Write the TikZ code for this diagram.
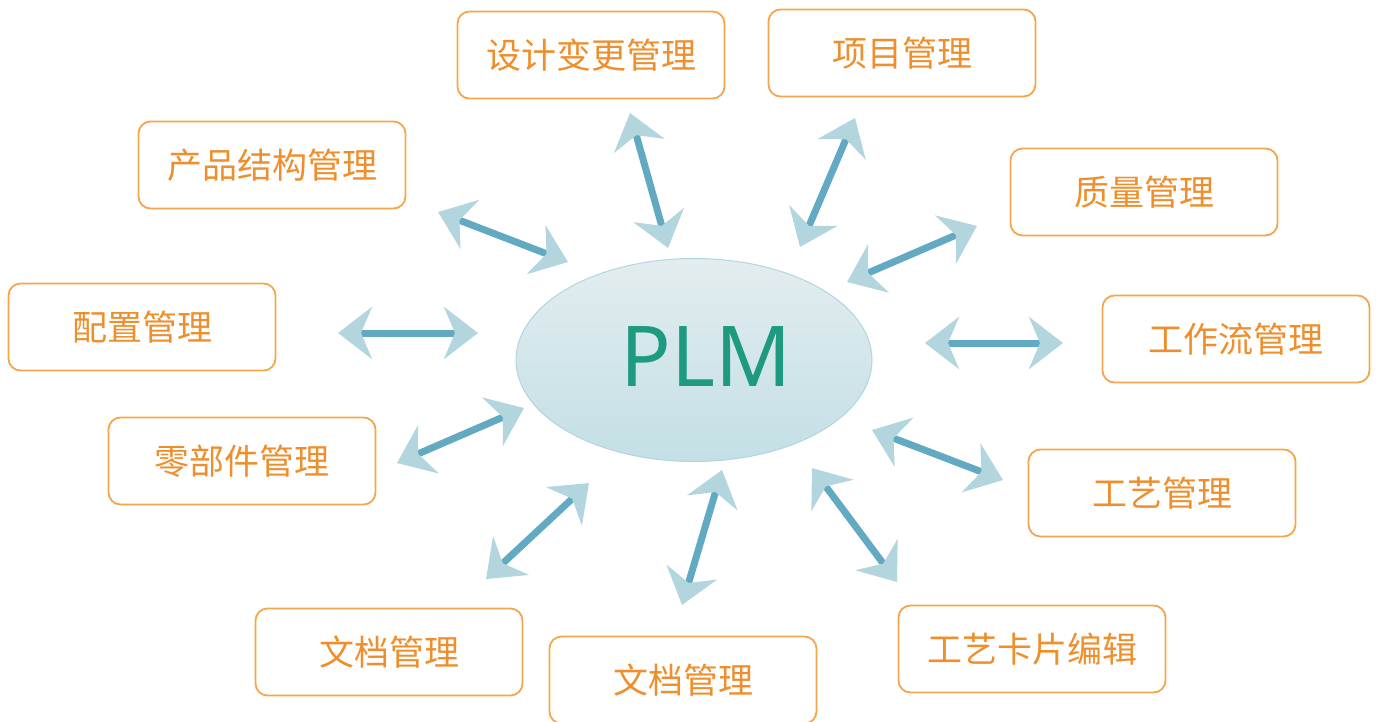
\documentclass[tikz,border=0pt]{standalone}
\usepackage{fontspec}
\setmainfont{Noto Sans}
\newfontfamily\cjk{Noto Sans CJK SC}
\usetikzlibrary{arrows.meta,shapes.geometric}

\definecolor{boxorange}{HTML}{F5A54A}
\definecolor{textorange}{HTML}{EE8E2C}
\definecolor{shaftblue}{HTML}{62A9C2}
\definecolor{headblue}{HTML}{B2D5DE}
\definecolor{plmgreen}{HTML}{1E9A80}
\definecolor{plmtop}{HTML}{E3EDEF}
\definecolor{plmbottom}{HTML}{C3DFE6}

\tikzset{
  module/.style={draw=boxorange, line width=1.8pt, rounded corners=12pt,
    minimum width=267pt, minimum height=87pt, text=textorange,
    font=\cjk\fontsize{35}{40}\selectfont},
  link/.style={line width=7pt, draw=shaftblue,
    {Stealth[length=34pt,width=52pt,inset=11pt,color=headblue]}-{Stealth[length=34pt,width=52pt,inset=11pt,color=headblue]}}
}

\begin{document}
\begin{tikzpicture}[x=1pt,y=-1pt]
    \useasboundingbox (0,0) rectangle (1378,721);

    % centre
    \node[ellipse, draw=headblue, line width=1pt, top color=plmtop,
      bottom color=plmbottom, minimum width=356pt, minimum height=203pt]
      (plm) at (694,360) {};
    \node[text=plmgreen, font=\fontsize{84}{90}\selectfont] (plmtext) at (706,357) {PLM};

    % modules
    \node[module] (design)  at (591,55)  {设计变更管理};
    \node[module] (project) at (902,53)  {项目管理};
    \node[module] (product) at (272,165) {产品结构管理};
    \node[module] (quality) at (1144,192) {质量管理};
    \node[module] (config)  at (142,327) {配置管理};
    \node[module] (flow)    at (1236,339) {工作流管理};
    \node[module] (parts)   at (242,461) {零部件管理};
    \node[module] (process) at (1162,493) {工艺管理};
    \node[module] (docl)    at (389,652) {文档管理};
    \node[module] (docm)    at (683,680) {文档管理};
    \node[module] (card)    at (1032,649) {工艺卡片编辑};

    % arrow ends
    \coordinate (product-a) at (438,212);  \coordinate (product-b) at (568,262);
    \coordinate (design-a)  at (630,113);  \coordinate (design-b)  at (668,248);
    \coordinate (project-a) at (855,118);  \coordinate (project-b) at (800,247);
    \coordinate (quality-a) at (977,226);  \coordinate (quality-b) at (847,282);
    \coordinate (flow-a)    at (1063,343); \coordinate (flow-b)    at (925,343);
    \coordinate (process-a) at (1003,480); \coordinate (process-b) at (872,430);
    \coordinate (card-a)    at (897,582);  \coordinate (card-b)    at (812,468);
    \coordinate (docm-a)    at (682,605);  \coordinate (docm-b)    at (722,470);
    \coordinate (docl-a)    at (486,579);  \coordinate (docl-b)    at (589,483);
    \coordinate (parts-a)   at (397,463);  \coordinate (parts-b)   at (524,408);
    \coordinate (config-a)  at (338,333);  \coordinate (config-b)  at (478,333);

    \draw[link] (product-a) -- (product-b);
    \draw[link] (design-a) -- (design-b);
    \draw[link] (project-a) -- (project-b);
    \draw[link] (quality-a) -- (quality-b);
    \draw[link] (flow-a) -- (flow-b);
    \draw[link] (process-a) -- (process-b);
    \draw[link] (card-a) -- (card-b);
    \draw[link] (docm-a) -- (docm-b);
    \draw[link] (docl-a) -- (docl-b);
    \draw[link] (parts-a) -- (parts-b);
    \draw[link] (config-a) -- (config-b);
\end{tikzpicture}
\end{document}
